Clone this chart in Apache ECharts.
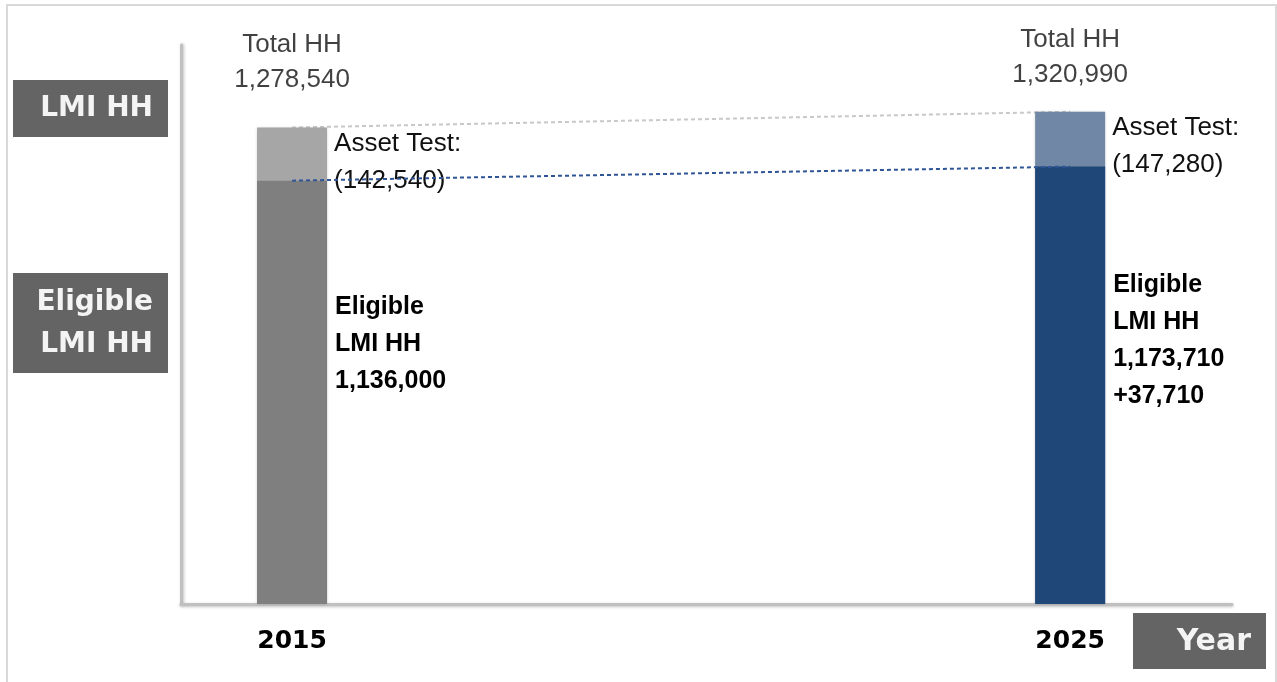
<!DOCTYPE html>
<html><head><meta charset="utf-8">
<script src="https://cdn.jsdelivr.net/npm/echarts@6/dist/echarts.min.js"></script>
<style>html,body{margin:0;padding:0;background:#fff}#c{width:1277px;height:682px}</style>
</head><body><div id="c"></div>
<script>
// ---- data ----
const years = [2015, 2025];
const totalHH = [1278540, 1320990];
const eligibleHH = [1136000, 1173710];
const assetTest = [142540, 147280];
const eligibleChange = ['', '+37,710'];
const yearTicks = [2015, 2025];

// ---- styles ----
const eligibleColors = ['#7f7f7f', '#1f4778'];
const assetColors = ['#a6a6a6', '#7088a6'];
const eligLabelDy = [108, 100];
const totalLabelDist = [30, 19];
const fmt = v => v.toLocaleString('en-US');
const regFont = "'Liberation Sans', Arial, sans-serif";

const chart = echarts.init(document.getElementById('c'), null, {renderer: 'canvas'});

// total bar (drawn behind); the part above the eligible bar is the asset-test share
const totalBarData = years.map((y, i) => ({
  value: [y, totalHH[i]],
  itemStyle: {color: assetColors[i]}
}));
const eligibleData = years.map((y, i) => ({
  value: [y, eligibleHH[i]],
  itemStyle: {color: eligibleColors[i]},
  label: {position: ['100%', eligLabelDy[i]]}
}));
const totalData = years.map((y, i) => ({
  value: [y, totalHH[i]],
  label: {distance: totalLabelDist[i]}
}));

chart.setOption({
  animation: false,
  grid: {left: 181, right: 45, top: 45, bottom: 78},
  xAxis: {
    type: 'value', min: 2013.573, max: 2027.08,
    splitLine: {show: false},
    axisTick: {show: false},
    axisLine: {show: true, onZero: false, lineStyle: {color: '#c0c0c0', width: 3, shadowColor: 'rgba(0,0,0,0.25)', shadowBlur: 3, shadowOffsetY: 1}},
    axisLabel: {
      customValues: yearTicks,
      formatter: v => String(v),
      margin: 25,
      fontFamily: "'DejaVu Sans', sans-serif", fontWeight: 'bold', fontSize: 25, color: '#000'
    }
  },
  yAxis: {
    type: 'value', min: 0, max: 1500000,
    splitLine: {show: false},
    axisTick: {show: false},
    axisLabel: {show: false},
    axisLine: {show: true, lineStyle: {color: '#c0c0c0', width: 3, shadowColor: 'rgba(0,0,0,0.25)', shadowBlur: 3, shadowOffsetX: 1}}
  },
  series: [
    {
      type: 'line', name: 'totalLink', z: 1,
      data: years.map((y, i) => [y, totalHH[i]]),
      symbol: 'none',
      lineStyle: {color: '#c8c8c8', width: 2, type: [4, 3]}
    },
    {
      type: 'bar', name: 'Asset Test', barWidth: 70, barGap: '-100%', z: 2,
      data: totalBarData,
      itemStyle: {shadowColor: 'rgba(0,0,0,0.25)', shadowBlur: 3},
      label: {
        show: true, position: ['100%', -2], align: 'left', verticalAlign: 'top', offset: [7, 0],
        fontFamily: regFont, fontSize: 26, lineHeight: 37, color: '#111',
        formatter: p => 'Asset Test:\n(' + fmt(assetTest[p.dataIndex]) + ')'
      }
    },
    {
      type: 'bar', name: 'Eligible LMI HH', barWidth: 70, barGap: '-100%', z: 3,
      data: eligibleData,
      label: {
        show: true, align: 'left', verticalAlign: 'top', offset: [8, 0],
        fontFamily: regFont, fontWeight: 'bold', fontSize: 25, lineHeight: 37, color: '#000',
        formatter: p => 'Eligible\nLMI HH\n' + fmt(eligibleHH[p.dataIndex]) +
          (eligibleChange[p.dataIndex] ? '\n' + eligibleChange[p.dataIndex] : '')
      }
    },
    {
      type: 'line', name: 'eligibleLink', z: 4,
      data: years.map((y, i) => [y, eligibleHH[i]]),
      symbol: 'none',
      lineStyle: {color: '#2f5597', width: 2, type: [4, 3]}
    },
    {
      type: 'scatter', name: 'Total HH', z: 5,
      symbolSize: 0, silent: true,
      data: totalData,
      label: {
        show: true, position: 'top', align: 'center',
        fontFamily: regFont, fontSize: 26, lineHeight: 35, color: '#111',
        formatter: p => 'Total HH\n' + fmt(totalHH[p.dataIndex])
      }
    }
  ],
  graphic: [
    {type: 'rect', z: -10, shape: {x: 7, y: 5, width: 1269, height: 700}, style: {fill: 'none', stroke: '#d9d9d9', lineWidth: 2}},
    {type: 'rect', shape: {x: 13, y: 80, width: 155, height: 57}, style: {fill: '#646464'}},
    {type: 'text', x: 153, y: 109, style: {text: 'LMI HH', align: 'right', verticalAlign: 'middle', fill: '#f4f4f4', font: "bold 28px 'DejaVu Sans', sans-serif"}},
    {type: 'rect', shape: {x: 13, y: 273, width: 155, height: 100}, style: {fill: '#646464'}},
    {type: 'text', x: 153, y: 324, style: {text: 'Eligible\nLMI HH', align: 'right', verticalAlign: 'middle', lineHeight: 42, fill: '#f4f4f4', font: "bold 28px 'DejaVu Sans', sans-serif"}},
    {type: 'rect', shape: {x: 1133, y: 613, width: 133, height: 56}, style: {fill: '#646464'}},
    {type: 'text', x: 1251, y: 642, style: {text: 'Year', align: 'right', verticalAlign: 'middle', fill: '#f4f4f4', font: "bold 30px 'DejaVu Sans', sans-serif"}}
  ]
});
</script>
</body></html>
